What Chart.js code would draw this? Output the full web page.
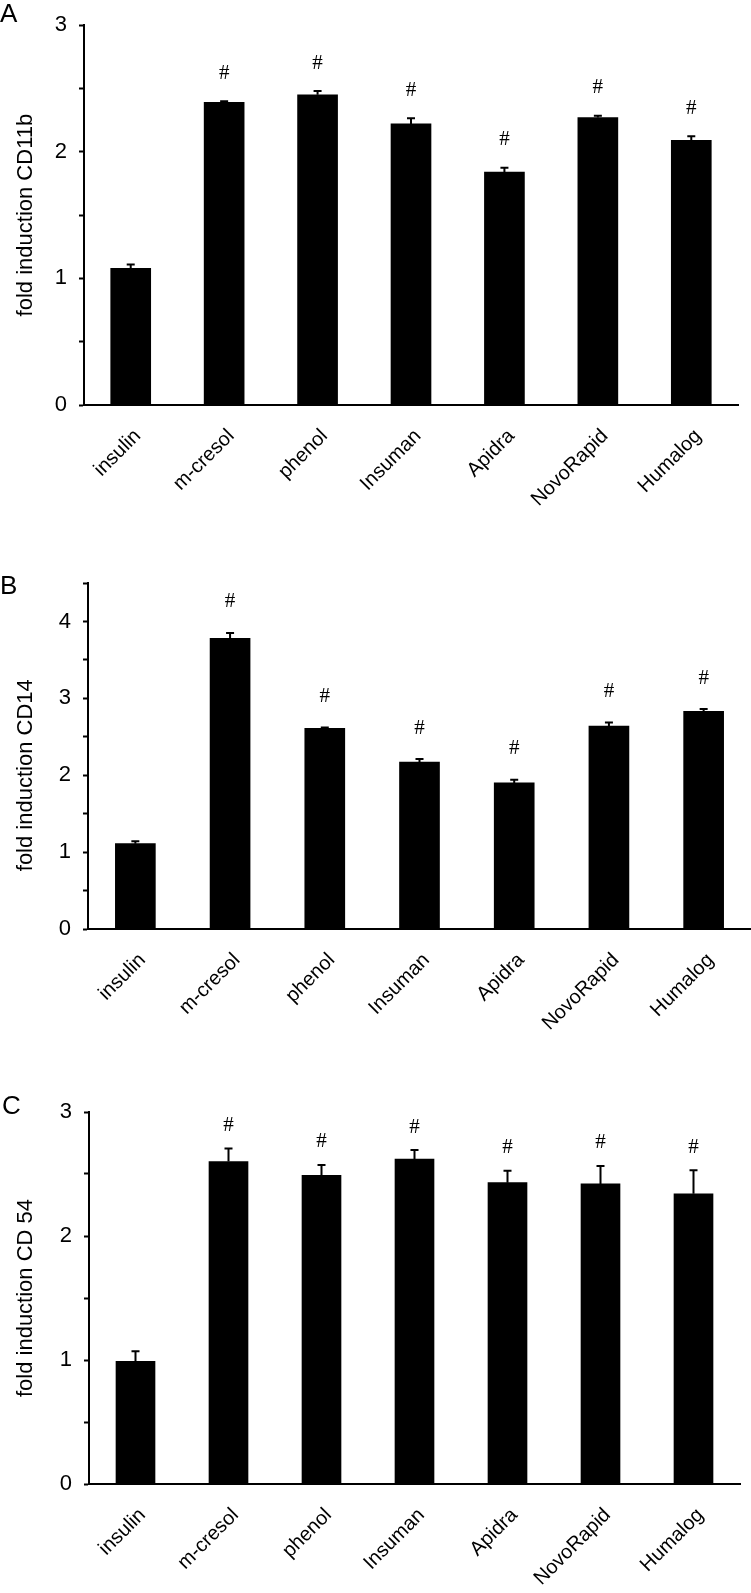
<!DOCTYPE html>
<html><head><meta charset="utf-8">
<script src="https://cdn.jsdelivr.net/npm/chart.js@4.4.0/dist/chart.umd.min.js"></script>
<style>
html,body{margin:0;padding:0;background:#fff;}
body{width:751px;height:1593px;position:relative;overflow:hidden;}
canvas{position:absolute;left:0;}
.lbl{position:absolute;left:0;font-family:'Liberation Sans',Arial,sans-serif;font-size:26px;line-height:26px;color:#000;}
</style></head><body>
<canvas id="cA" width="751" height="545" style="top:0px"></canvas>
<canvas id="cB" width="751" height="530" style="top:545px"></canvas>
<canvas id="cC" width="751" height="518" style="top:1075px"></canvas>
<div class="lbl" style="top:0px">A</div>
<div class="lbl" style="top:572px">B</div>
<div class="lbl" style="top:1092px;left:2px">C</div>
<script>
// ---- data ----
const categories = ['insulin', 'm-cresol', 'phenol', 'Insuman', 'Apidra', 'NovoRapid', 'Humalog'];

const cd11bMean = [1.08, 2.39, 2.45, 2.22, 1.84, 2.27, 2.09];
const cd11bErr  = [0.03, 0.01, 0.03, 0.045, 0.035, 0.015, 0.033];
const cd11bSig  = [false, true, true, true, true, true, true];
const cd11bTicks = [0, 1, 2, 3];

const cd14Mean = [1.11, 3.78, 2.61, 2.17, 1.90, 2.64, 2.83];
const cd14Err  = [0.03, 0.07, 0.01, 0.04, 0.04, 0.045, 0.03];
const cd14Sig  = [false, true, true, true, true, true, true];
const cd14Ticks = [0, 1, 2, 3, 4];

const cd54Mean = [0.99, 2.60, 2.49, 2.62, 2.43, 2.42, 2.34];
const cd54Err  = [0.08, 0.105, 0.083, 0.073, 0.097, 0.145, 0.19];
const cd54Sig  = [false, true, true, true, true, true, true];
const cd54Ticks = [0, 1, 2, 3];

// ---- plugins ----
const errorBarPlugin = {
  id: 'errbars',
  afterDatasetsDraw(chart, args, opts) {
    const ctx = chart.ctx;
    const meta = chart.getDatasetMeta(0);
    const ys = chart.scales.y;
    const data = chart.data.datasets[0].data;
    ctx.save();
    ctx.strokeStyle = '#000';
    ctx.fillStyle = '#000';
    ctx.lineWidth = 2;
    ctx.font = "21px 'Liberation Serif', 'Times New Roman', serif";
    ctx.textAlign = 'center';
    ctx.textBaseline = 'middle';
    meta.data.forEach((bar, i) => {
      const top = ys.getPixelForValue(data[i] + opts.err[i]);
      ctx.beginPath();
      ctx.moveTo(bar.x, bar.y);
      ctx.lineTo(bar.x, top);
      ctx.moveTo(bar.x - 4, top);
      ctx.lineTo(bar.x + 4, top);
      ctx.stroke();
      if (opts.sig[i]) ctx.fillText('#', bar.x, top - opts.hashOffset);
    });
    ctx.restore();
  }
};

const yTitlePlugin = {
  id: 'ytitle',
  afterDraw(chart, args, opts) {
    const ctx = chart.ctx;
    const ys = chart.scales.y;
    const yc = (ys.getPixelForValue(opts.from) + ys.getPixelForValue(opts.to)) / 2;
    ctx.save();
    ctx.translate(opts.x, yc);
    ctx.rotate(-Math.PI / 2);
    ctx.fillStyle = '#000';
    ctx.font = "22px 'Liberation Sans', Arial, sans-serif";
    ctx.textAlign = 'center';
    ctx.textBaseline = 'middle';
    ctx.fillText(opts.text, 0, 0);
    ctx.restore();
  }
};

// category labels, rotated 45 degrees, anchored at each category's pixel
const xLabelPlugin = {
  id: 'xlabels',
  afterDraw(chart) {
    const ctx = chart.ctx;
    const xs = chart.scales.x;
    const y0 = chart.chartArea.bottom;
    ctx.save();
    ctx.fillStyle = '#000';
    ctx.font = "20px 'Liberation Sans', Arial, sans-serif";
    ctx.textAlign = 'right';
    ctx.textBaseline = 'middle';
    chart.data.labels.forEach((lab, i) => {
      const px = xs.getPixelForValue(i);
      ctx.save();
      ctx.translate(px + 7, y0 + 28);
      ctx.rotate(-Math.PI / 4);
      ctx.fillText(lab, 0, 0);
      ctx.restore();
    });
    ctx.restore();
  }
};

Chart.defaults.font.family = "'Liberation Sans', Arial, sans-serif";
Chart.defaults.color = '#000';

function makeChart(id, mean, err, sig, tickList, yMax, title, cfg) {
  return new Chart(document.getElementById(id), {
    type: 'bar',
    data: {
      labels: categories,
      datasets: [{
        data: mean,
        backgroundColor: '#000',
        borderWidth: 0,
        barThickness: cfg.barW,
        categoryPercentage: 1
      }]
    },
    plugins: [errorBarPlugin, yTitlePlugin, xLabelPlugin],
    options: {
      responsive: false,
      animation: false,
      layout: { padding: { top: cfg.padTop, right: cfg.padRight, left: 0, bottom: 0 } },
      plugins: {
        legend: { display: false },
        tooltip: { enabled: false },
        errbars: { err: err, sig: sig, hashOffset: cfg.hashOffset },
        ytitle: { text: title, x: 26, from: tickList[0], to: tickList[tickList.length - 1] }
      },
      scales: {
        x: {
          afterFit: (s) => { s.height = cfg.xH; },
          grid: { display: false },
          border: { display: true, color: '#000', width: 2 },
          ticks: { display: false }
        },
        y: {
          min: 0,
          max: yMax,
          afterFit: (s) => { s.width = cfg.axisX; },
          grid: {
            display: true,
            drawOnChartArea: false,
            drawTicks: true,
            tickLength: 5,
            tickColor: '#000',
            tickWidth: 2
          },
          border: { display: true, color: '#000', width: 2 },
          ticks: {
            stepSize: 0.5,
            padding: 12,
            font: { size: 22 },
            color: '#000',
            callback: (v) => tickList.includes(v) ? String(v) : ''
          }
        }
      }
    }
  });
}

makeChart('cA', cd11bMean, cd11bErr, cd11bSig, cd11bTicks, 3, 'fold induction CD11b',
  { padTop: 15, padRight: 13, xH: 140, axisX: 84, barW: 40, hashOffset: 28 });
makeChart('cB', cd14Mean, cd14Err, cd14Sig, cd14Ticks, 4.5, 'fold induction CD14',
  { padTop: 38, padRight: 0, xH: 146, axisX: 88, barW: 40, hashOffset: 31 });
makeChart('cC', cd54Mean, cd54Err, cd54Sig, cd54Ticks, 3, 'fold induction CD 54',
  { padTop: 37, padRight: 11, xH: 109, axisX: 89, barW: 39, hashOffset: 23 });
</script>
</body></html>
